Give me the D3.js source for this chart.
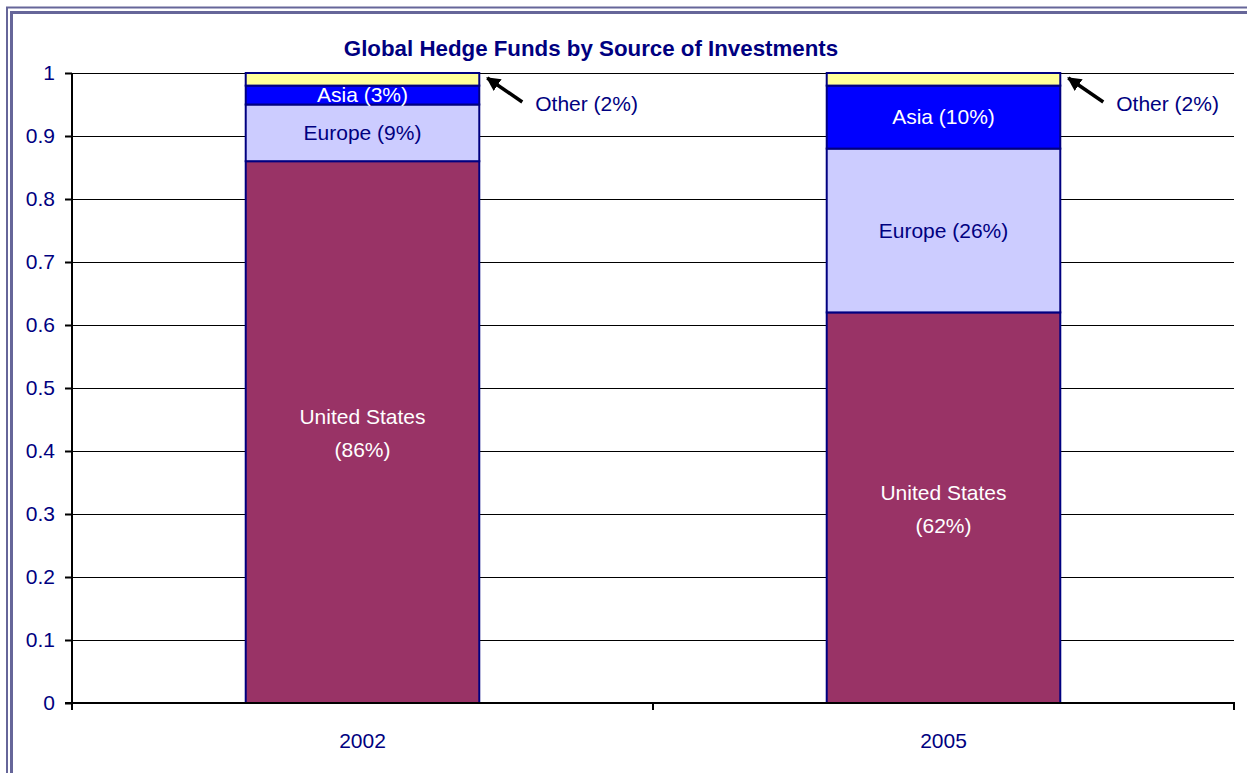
<!DOCTYPE html>
<html>
<head>
<meta charset="utf-8">
<script src="https://cdn.jsdelivr.net/npm/d3@7"></script>
<style>
  body { margin: 0; background: #fff; }
  svg { display: block; font-family: "Liberation Sans", Arial, sans-serif; }
</style>
</head>
<body>
<svg id="chart" width="1247" height="773"></svg>
<script>
// data
var years = ["2002", "2005"];
var regions = ["United States", "Europe", "Asia", "Other"];
var usShare = [0.86, 0.62];
var europeShare = [0.09, 0.26];
var asiaShare = [0.03, 0.10];
var otherShare = [0.02, 0.02];
var yTicks = [0, 0.1, 0.2, 0.3, 0.4, 0.5, 0.6, 0.7, 0.8, 0.9, 1];

var colors = { "United States": "#993366", "Europe": "#ccccff", "Asia": "#0000ff", "Other": "#ffff99" };
var navy = "#000080";
var fs = "21px";

var rows = years.map(function (y, i) {
  return { year: y, "United States": usShare[i], "Europe": europeShare[i], "Asia": asiaShare[i], "Other": otherShare[i] };
});

var svg = d3.select("#chart");

// frame (double border, runs off the page right and bottom)
svg.append("rect").attr("x", 7).attr("y", 7.5).attr("width", 1400).attr("height", 1000)
  .attr("fill", "none").attr("stroke", "#666699").attr("stroke-width", 2);
svg.append("rect").attr("x", 11.5).attr("y", 12.5).attr("width", 1400).attr("height", 1000)
  .attr("fill", "none").attr("stroke", "#666699").attr("stroke-width", 3);

var plotLeft = 72, plotRight = 1234, plotTop = 73, plotBottom = 703;

var x = d3.scaleBand().domain(years).range([plotLeft, plotRight]).padding(0);
var y = d3.scaleLinear().domain([0, 1]).range([plotBottom, plotTop]);
var barW = x.bandwidth() * 0.402;

// gridlines
svg.append("g").selectAll("line").data(yTicks.slice(1)).enter().append("line")
  .attr("x1", plotLeft).attr("x2", plotRight)
  .attr("y1", function (d) { return Math.round(y(d)) + 0.5; }).attr("y2", function (d) { return Math.round(y(d)) + 0.5; })
  .attr("stroke", "#000").attr("stroke-width", 1.2);

// stacked bars
var series = d3.stack().keys(regions)(rows);
series.forEach(function (s) {
  svg.append("g").selectAll("rect").data(s).enter().append("rect")
    .attr("x", function (d) { return x(d.data.year) + (x.bandwidth() - barW) / 2; })
    .attr("y", function (d) { return y(d[1]); })
    .attr("width", barW)
    .attr("height", function (d) { return y(d[0]) - y(d[1]); })
    .attr("fill", colors[s.key])
    .attr("stroke", navy).attr("stroke-width", 2);
});

// y axis
var yAxis = svg.append("g").attr("transform", "translate(" + plotLeft + ",0)")
  .call(d3.axisLeft(y).tickValues(yTicks).tickSize(7).tickPadding(10).tickFormat(d3.format("")));
yAxis.select(".domain").attr("stroke", "#000").attr("stroke-width", 2).attr("d", "M0," + (plotBottom + 7) + "V" + plotTop);
yAxis.selectAll(".tick line").attr("stroke", "#000").attr("stroke-width", 2);
yAxis.selectAll(".tick text").attr("fill", navy).style("font-size", fs).attr("font-family", null);

// x axis
svg.append("line").attr("x1", plotLeft - 7).attr("x2", plotRight + 1).attr("y1", plotBottom).attr("y2", plotBottom)
  .attr("stroke", "#000").attr("stroke-width", 2);
var xEdges = years.map(function (d) { return x(d); }).concat([plotRight]);
svg.append("g").selectAll("line").data(xEdges).enter().append("line")
  .attr("x1", function (d) { return d; }).attr("x2", function (d) { return d; })
  .attr("y1", plotBottom).attr("y2", plotBottom + 7)
  .attr("stroke", "#000").attr("stroke-width", 2);
svg.append("g").selectAll("text").data(years).enter().append("text")
  .attr("x", function (d) { return x(d) + x.bandwidth() / 2; })
  .attr("y", 748)
  .attr("text-anchor", "middle").attr("fill", navy).style("font-size", fs)
  .text(function (d) { return d; });

// title
svg.append("text").attr("x", 591).attr("y", 56).attr("text-anchor", "middle")
  .attr("fill", navy).style("font-size", "22.3px").style("font-weight", "bold")
  .text("Global Hedge Funds by Source of Investments");

// segment labels
function pct(v) { return "(" + Math.round(v * 100) + "%)"; }
var labelColor = { "United States": "#fff", "Europe": navy, "Asia": "#fff" };
series.forEach(function (s) {
  if (s.key === "Other") return;
  s.forEach(function (d) {
    var cx = x(d.data.year) + x.bandwidth() / 2;
    var cy = (y(d[0]) + y(d[1])) / 2;
    var v = d[1] - d[0];
    var t = svg.append("text").attr("x", cx).attr("text-anchor", "middle")
      .attr("fill", labelColor[s.key]).style("font-size", fs);
    if (s.key === "United States") {
      t.attr("y", cy - 15).attr("dy", "0.35em").text(s.key);
      svg.append("text").attr("x", cx).attr("y", cy + 18).attr("dy", "0.35em").attr("text-anchor", "middle")
        .attr("fill", labelColor[s.key]).style("font-size", fs).text(pct(v));
    } else {
      t.attr("y", cy).attr("dy", "0.35em").text(s.key + " " + pct(v));
    }
  });
});

// "Other" callouts with arrows
svg.append("defs").append("marker").attr("id", "arrow")
  .attr("viewBox", "0 0 10 10").attr("refX", 9).attr("refY", 5)
  .attr("markerWidth", 4).attr("markerHeight", 4).attr("orient", "auto")
  .append("path").attr("d", "M0,0L10,5L0,10z").attr("fill", "#000");

series[3].forEach(function (d) {
  var tipX = x(d.data.year) + (x.bandwidth() + barW) / 2 + 8;
  var tipY = y(d[1]) + 5;
  svg.append("line").attr("x1", tipX + 35).attr("y1", tipY + 24).attr("x2", tipX).attr("y2", tipY)
    .attr("stroke", "#000").attr("stroke-width", 3.5).attr("marker-end", "url(#arrow)");
  svg.append("text").attr("x", tipX + 48).attr("y", 111)
    .attr("fill", navy).style("font-size", fs)
    .text("Other " + pct(d[1] - d[0]));
});
</script>
</body>
</html>
